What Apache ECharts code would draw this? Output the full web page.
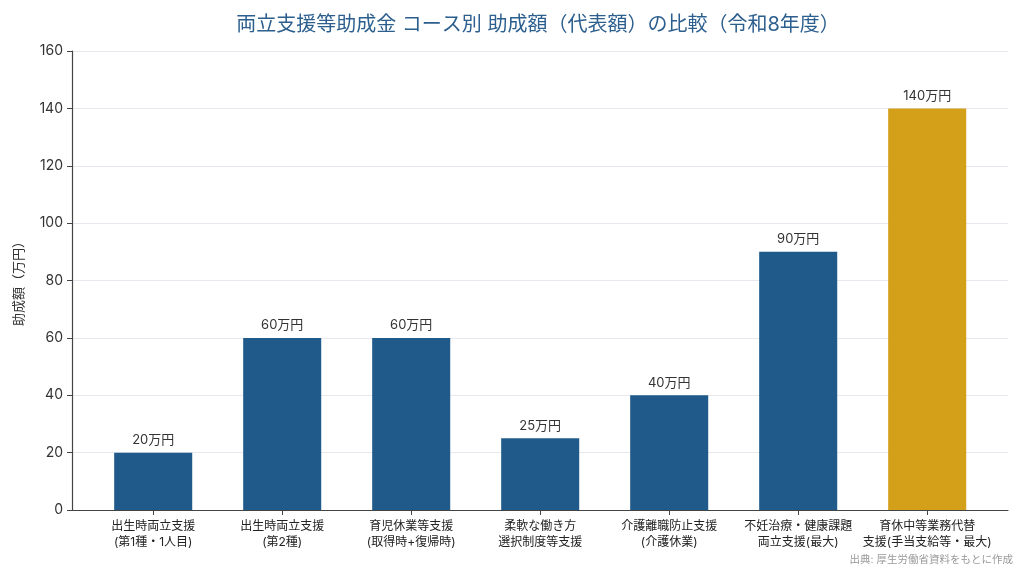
<!DOCTYPE html>
<html lang="ja">
<head>
<meta charset="utf-8" />
<title>両立支援等助成金</title>
<script src="https://cdn.jsdelivr.net/npm/echarts@6/dist/echarts.min.js"></script>
<style>
  html, body { margin: 0; padding: 0; background: #fff; }
  #chart { width: 1024px; height: 573px; }
</style>
</head>
<body>
<div id="chart"></div>
<script type="text/javascript">
// data
var courses = [
  '出生時両立支援\n(第1種・1人目)',
  '出生時両立支援\n(第2種)',
  '育児休業等支援\n(取得時+復帰時)',
  '柔軟な働き方\n選択制度等支援',
  '介護離職防止支援\n(介護休業)',
  '不妊治療・健康課題\n両立支援(最大)',
  '育休中等業務代替\n支援(手当支給等・最大)'
];
var amounts = [20, 60, 60, 25, 40, 90, 140];
var highlight = [false, false, false, false, false, false, true];

var font = 'Inter, "Noto Sans CJK JP", sans-serif';
var chart = echarts.init(document.getElementById('chart'));

var option = {
  animation: false,
  textStyle: { fontFamily: font },
  title: {
    text: '両立支援等助成金 コース別 助成額（代表額）の比較（令和8年度）',
    left: 533, top: 10, textAlign: 'center',
    textStyle: { fontSize: 20, fontWeight: 'normal', color: '#2d5f8e', fontFamily: font }
  },
  graphic: [{
    type: 'text', right: 11, top: 555,
    style: { text: '出典: 厚生労働省資料をもとに作成', fill: '#999', font: '10.5px ' + font }
  }],
  grid: [
    { left: 72, right: 16, top: 51, bottom: 63 },
    { left: 88.7, right: 32.3, top: 51, bottom: 63 }
  ],
  xAxis: [
    {
      gridIndex: 0, type: 'value', min: 0, max: 1,
      axisLine: { show: true, lineStyle: { color: '#444', width: 1.2 } },
      axisTick: { show: false }, axisLabel: { show: false }, splitLine: { show: false }
    },
    {
      gridIndex: 1, type: 'category', data: courses,
      axisLine: { show: false },
      axisTick: { show: true, alignWithLabel: true, length: 5, lineStyle: { color: '#444' } },
      axisLabel: { fontSize: 12, color: '#222', lineHeight: 16, margin: 8, interval: 0 }
    }
  ],
  yAxis: [
    {
      gridIndex: 0, type: 'value', min: 0, max: 160, interval: 20,
      name: '助成額（万円）', nameLocation: 'middle', nameGap: 46,
      nameTextStyle: { fontSize: 13, color: '#333' },
      axisLine: { show: true, lineStyle: { color: '#444', width: 1.2 } },
      axisTick: { show: true, length: 5, lineStyle: { color: '#444' } },
      axisLabel: { fontSize: 14, color: '#333', margin: 9 },
      splitLine: { lineStyle: { color: '#e6e8ee', width: 1 } }
    },
    {
      gridIndex: 1, type: 'value', min: 0, max: 160, show: false,
      splitLine: { show: false }
    }
  ],
  series: [{
    type: 'bar', xAxisIndex: 1, yAxisIndex: 1,
    barWidth: '60.5%',
    data: amounts.map(function (v, i) {
      return { value: v, itemStyle: { color: highlight[i] ? '#d4a01a' : '#1f5a8a' } };
    }),
    label: {
      show: true, position: 'top', distance: 6,
      formatter: '{c}万円', fontSize: 13, color: '#333'
    }
  }]
};
chart.setOption(option);
</script>
</body>
</html>
